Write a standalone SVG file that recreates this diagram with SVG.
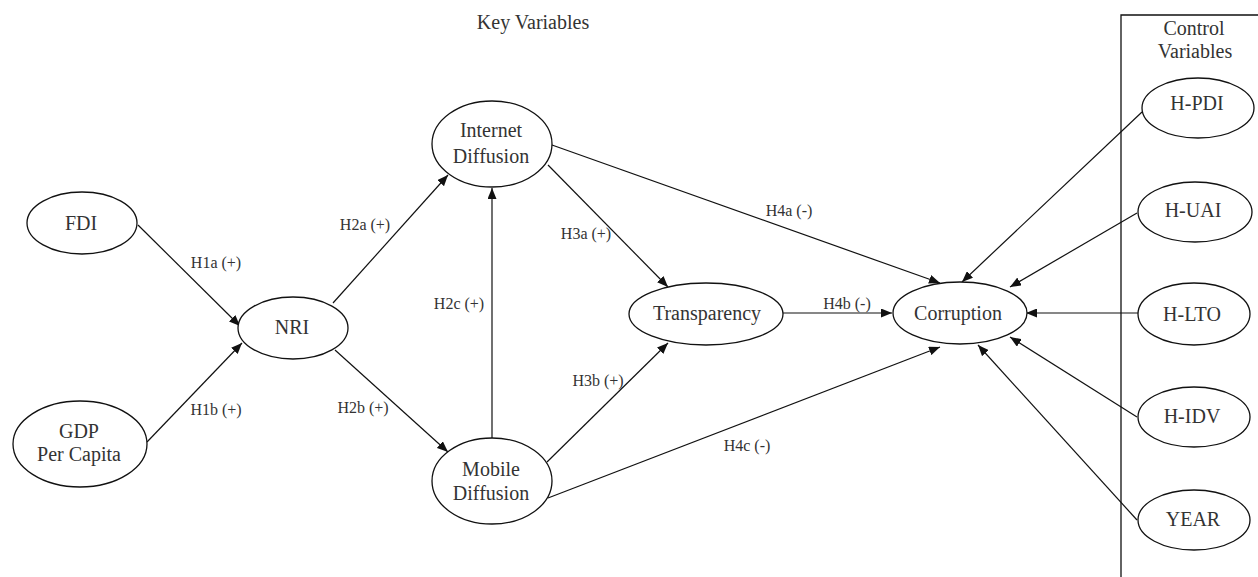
<svg xmlns="http://www.w3.org/2000/svg" width="1258" height="577" viewBox="0 0 1258 577">
<defs>
<style>
.node ellipse{fill:#fff;stroke:#111;stroke-width:1.3}
.node text{font-family:"Liberation Serif","Times New Roman",serif;font-size:20px;fill:#333;text-anchor:middle}
.edges line{stroke:#111;stroke-width:1.2;marker-end:url(#arr)}
.lbl{font-family:"Liberation Serif","Times New Roman",serif;font-size:16px;fill:#333;text-anchor:middle}
.title{font-family:"Liberation Serif","Times New Roman",serif;font-size:20px;fill:#333;text-anchor:middle}
</style>
<marker id="arr" viewBox="0 0 11 9" refX="11" refY="4.5" markerWidth="11" markerHeight="9" markerUnits="userSpaceOnUse" orient="auto">
<path d="M0,0 L11,4.5 L0,9 Z" fill="#111"/>
</marker>
</defs>
<rect width="1258" height="577" fill="#fff"/>
<text class="title" x="533" y="29">Key Variables</text>
<g id="control-box">
<path d="M1121,577 V15 H1258" fill="none" stroke="#111" stroke-width="1.3"/>
<text class="title" x="1194" y="35">Control</text>
<text class="title" x="1195" y="58">Variables</text>
</g>
<g class="edges" id="connectors">
<line x1="138" y1="225" x2="240" y2="326"/>
<line x1="147" y1="442" x2="242" y2="343"/>
<line x1="333" y1="303" x2="448" y2="175"/>
<line x1="335" y1="350" x2="448" y2="452"/>
<line x1="492" y1="438" x2="492" y2="188"/>
<line x1="548" y1="165" x2="668" y2="287"/>
<line x1="547" y1="462" x2="668" y2="343"/>
<line x1="552" y1="145" x2="940" y2="283"/>
<line x1="783" y1="313" x2="892" y2="313"/>
<line x1="548" y1="498" x2="940" y2="347"/>
<line x1="1142" y1="112" x2="962" y2="282"/>
<line x1="1137" y1="213" x2="1010" y2="287"/>
<line x1="1138" y1="313" x2="1026" y2="313"/>
<line x1="1137" y1="417" x2="1010" y2="337"/>
<line x1="1137" y1="520" x2="978" y2="345"/>
</g>
<g id="edge-labels">
<text class="lbl" x="216" y="268">H1a (+)</text>
<text class="lbl" x="216" y="415">H1b (+)</text>
<text class="lbl" x="365" y="230">H2a (+)</text>
<text class="lbl" x="363" y="413">H2b (+)</text>
<text class="lbl" x="459" y="309">H2c (+)</text>
<text class="lbl" x="586" y="239">H3a (+)</text>
<text class="lbl" x="598" y="386">H3b (+)</text>
<text class="lbl" x="789" y="216">H4a (-)</text>
<text class="lbl" x="847" y="309">H4b (-)</text>
<text class="lbl" x="747" y="451">H4c (-)</text>
</g>
<g class="node" id="fdi"><ellipse cx="82" cy="223" rx="55" ry="31"/><text x="81" y="230">FDI</text></g>
<g class="node" id="gdp"><ellipse cx="80" cy="444" rx="67" ry="43"/><text x="79" y="438">GDP</text><text x="79" y="461">Per Capita</text></g>
<g class="node" id="nri"><ellipse cx="293" cy="328" rx="55" ry="31"/><text x="292" y="334">NRI</text></g>
<g class="node" id="internet"><ellipse cx="492" cy="144" rx="60" ry="43"/><text x="491" y="137">Internet</text><text x="491" y="163">Diffusion</text></g>
<g class="node" id="mobile"><ellipse cx="492" cy="481" rx="60" ry="43"/><text x="491" y="476">Mobile</text><text x="491" y="500">Diffusion</text></g>
<g class="node" id="transparency"><ellipse cx="706" cy="314" rx="77" ry="31"/><text x="707" y="320">Transparency</text></g>
<g class="node" id="corruption"><ellipse cx="960" cy="313" rx="67" ry="31"/><text x="958" y="320">Corruption</text></g>
<g class="node" id="h-pdi"><ellipse cx="1198" cy="108" rx="56" ry="30"/><text x="1197" y="110">H-PDI</text></g>
<g class="node" id="h-uai"><ellipse cx="1195" cy="212" rx="57" ry="30"/><text x="1193" y="217">H-UAI</text></g>
<g class="node" id="h-lto"><ellipse cx="1194" cy="314" rx="56" ry="31"/><text x="1192" y="321">H-LTO</text></g>
<g class="node" id="h-idv"><ellipse cx="1194" cy="417" rx="56" ry="30"/><text x="1192" y="423">H-IDV</text></g>
<g class="node" id="year"><ellipse cx="1194" cy="520" rx="56" ry="30"/><text x="1193" y="526">YEAR</text></g>
</svg>
